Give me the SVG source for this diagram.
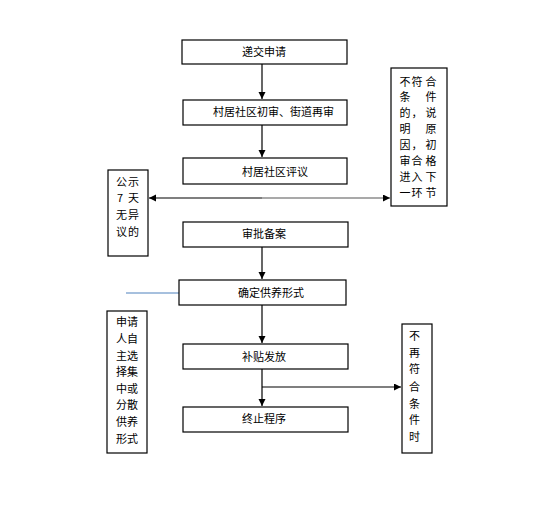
<svg xmlns="http://www.w3.org/2000/svg" width="548" height="527" viewBox="0 0 548 527">
<style>
.box{fill:#fff;stroke:#000;stroke-width:1.2}
.t{font-family:"Noto Sans CJK SC","Liberation Sans",sans-serif;font-size:11px;fill:#000}
.ln{stroke:#000;stroke-width:1.2;fill:none}
</style>
<defs>
<marker id="ah" markerUnits="userSpaceOnUse" markerWidth="8" markerHeight="8" refX="7" refY="3.5" orient="auto">
<path d="M0,0 L7,3.5 L0,7 Z" fill="#000"/>
</marker>
</defs>
<rect width="548" height="527" fill="#fff"/>
<g id="connectors">
<line class="ln" x1="262" y1="64" x2="262" y2="99" marker-end="url(#ah)"/>
<line class="ln" x1="262" y1="125" x2="262" y2="157" marker-end="url(#ah)"/>
<line class="ln" x1="262" y1="198" x2="149" y2="198" marker-end="url(#ah)"/>
<line x1="262" y1="198" x2="390" y2="198" stroke="#555" stroke-width="1.2" marker-end="url(#ah)"/>
<line class="ln" x1="262" y1="247" x2="262" y2="279" marker-end="url(#ah)"/>
<line x1="126" y1="293" x2="179" y2="293" stroke="#4f81bd" stroke-width="1"/>
<line class="ln" x1="262" y1="305" x2="262" y2="343" marker-end="url(#ah)"/>
<line class="ln" x1="262" y1="369" x2="262" y2="406" marker-end="url(#ah)"/>
<line class="ln" x1="262" y1="387" x2="401" y2="387" marker-end="url(#ah)"/>
</g>
<g id="n1"><rect class="box" x="182" y="40" width="165" height="24"/><text class="t" x="242" y="56">递交申请</text></g>
<g id="n2"><rect class="box" x="183" y="100" width="164" height="25"/><text class="t" x="213" y="116">村居社区初审、街道再审</text></g>
<g id="n3"><rect class="box" x="183" y="158" width="164" height="26"/><text class="t" x="242" y="176">村居社区评议</text></g>
<g id="n4"><rect class="box" x="183" y="222" width="165" height="25"/><text class="t" x="242" y="238">审批备案</text></g>
<g id="n5"><rect class="box" x="179" y="280" width="167" height="25"/><text class="t" x="238" y="297">确定供养形式</text></g>
<g id="n6"><rect class="box" x="183" y="344" width="165" height="25"/><text class="t" x="242" y="361">补贴发放</text></g>
<g id="n7"><rect class="box" x="183" y="407" width="165" height="25"/><text class="t" x="242" y="423">终止程序</text></g>
<g id="n8"><rect class="box" x="391" y="68" width="56" height="138"/>
<text class="t" x="399.5 411.5 425.5" y="86">不符合</text>
<text class="t" x="399.5 425.5" y="101">条件</text>
<text class="t" x="399.5 411.5 425.5" y="117">的，说</text>
<text class="t" x="399.5 425.5" y="133">明原</text>
<text class="t" x="399.5 411.5 425.5" y="149">因，初</text>
<text class="t" x="399.5 411.5 425.5" y="165">审合格</text>
<text class="t" x="399.5 411.5 425.5" y="181">进入下</text>
<text class="t" x="399.5 411.5 425.5" y="197">一环节</text>
</g>
<g id="n9"><rect class="box" x="108" y="170" width="40" height="86"/>
<text class="t" x="116 128" y="186">公示</text>
<text class="t" x="117 128" y="202">7天</text>
<text class="t" x="116 128" y="219">无异</text>
<text class="t" x="116 128" y="236">议的</text>
</g>
<g id="n10"><rect class="box" x="107" y="311" width="40" height="142"/>
<text class="t" x="116 127" y="326">申请</text>
<text class="t" x="116 127" y="343">人自</text>
<text class="t" x="116 127" y="360">主选</text>
<text class="t" x="116 127" y="376">择集</text>
<text class="t" x="116 127" y="393">中或</text>
<text class="t" x="116 127" y="409">分散</text>
<text class="t" x="116 127" y="426">供养</text>
<text class="t" x="116 127" y="443">形式</text>
</g>
<g id="n11"><rect class="box" x="402" y="324" width="30" height="129"/>
<text class="t" x="409" y="340">不</text>
<text class="t" x="409" y="357">再</text>
<text class="t" x="409" y="373">符</text>
<text class="t" x="409" y="391">合</text>
<text class="t" x="409" y="408">条</text>
<text class="t" x="409" y="424">件</text>
<text class="t" x="409" y="441">时</text>
</g>
</svg>
